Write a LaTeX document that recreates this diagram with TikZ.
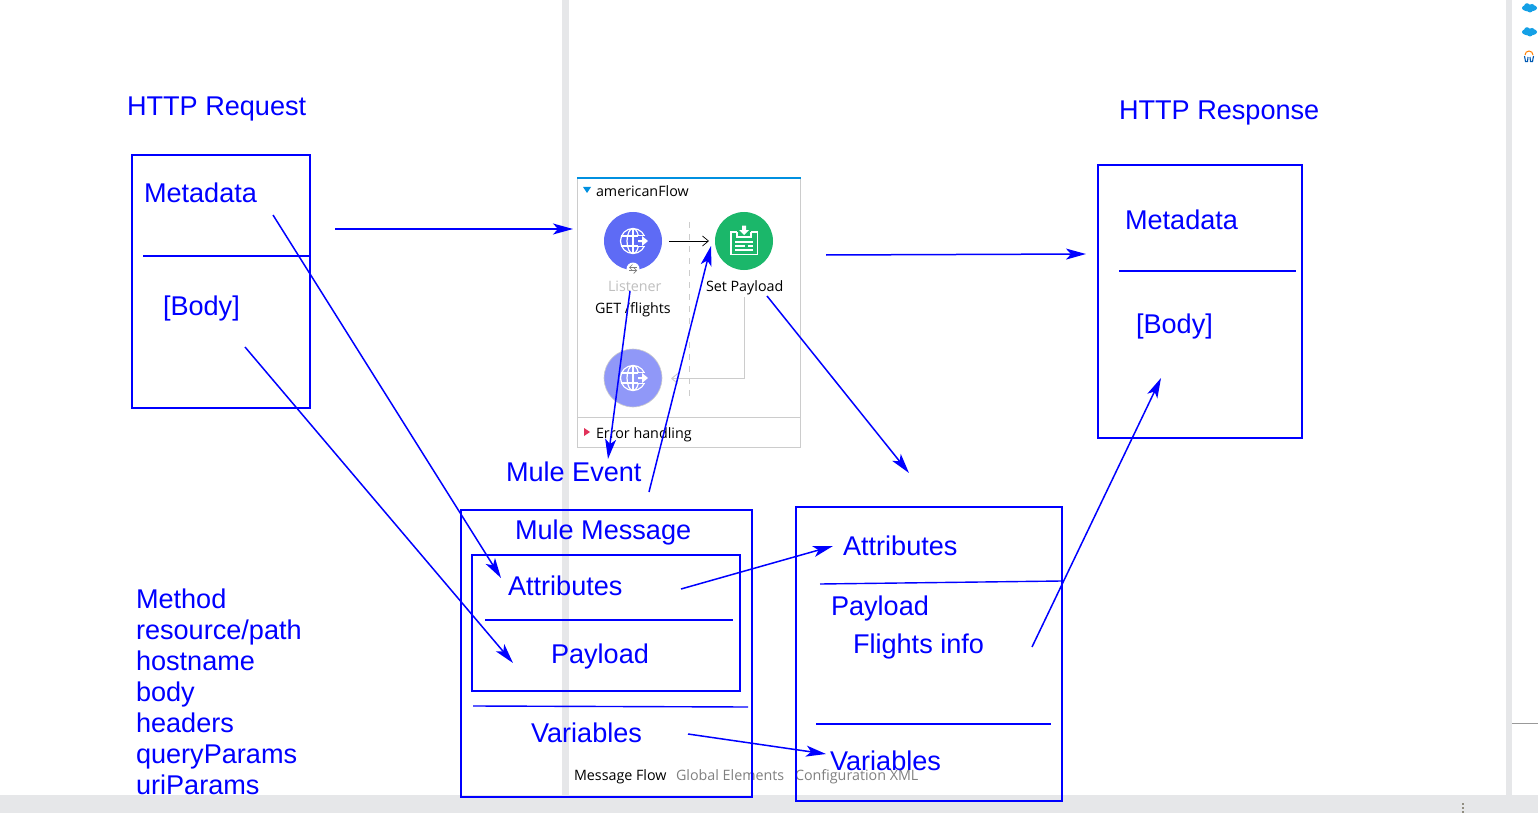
\documentclass[tikz,border=0pt]{standalone}
\usepackage{fontspec}
\setmainfont{Liberation Sans}
\newfontfamily\uifont{Open Sans}
\usetikzlibrary{arrows.meta}
\definecolor{ink}{RGB}{0,0,255}
\definecolor{band}{RGB}{230,231,233}
\definecolor{panelline}{RGB}{204,204,204}
\definecolor{flowblue}{RGB}{0,144,224}
\definecolor{listenerc}{RGB}{94,107,245}
\definecolor{sourcec}{RGB}{144,152,248}
\definecolor{setc}{RGB}{27,183,106}
\definecolor{sfblue}{RGB}{20,160,230}
\definecolor{errc}{RGB}{225,50,90}
\tikzset{
  x=0.5pt,y=-0.5pt,
  lbl/.style={anchor=base west,inner sep=0pt,outer sep=0pt,text=ink,yshift=-0.4pt,font=\fontsize{13.55}{16}\selectfont},
  ui/.style={anchor=base west,inner sep=0pt,outer sep=0pt,font=\uifont\fontsize{7.15}{8}\selectfont},
  bx/.style={draw=ink,line width=1pt},
  rule/.style={draw=ink,line width=0.7pt},
  conn/.style={draw=ink,line width=0.75pt,-{Stealth[length=10pt,width=5.5pt,inset=2.5pt]}},
  icon/.style={circle,inner sep=0pt,minimum size=29pt},
  glyph/.style={draw=white,line width=0.6pt},
}
\newcommand{\globeicon}[3]{%
  \draw[glyph] (#1,#2) circle[radius=12.5];
  \draw[glyph] (#1,#2) ellipse[x radius=6,y radius=12.5];
  \draw[glyph] (#1-12,#2-5) -- (#1+12,#2-5) (#1-12,#2+5) -- (#1+12,#2+5) (#1,#2-12.5) -- (#1,#2+12.5);
  \fill[#3] (#1+5,#2-5) rectangle (#1+16,#2+5);
  \fill[white] (#1+5,#2-1) -- (#1+9,#2-1) -- (#1+9,#2-5) -- (#1+15,#2) -- (#1+9,#2+5) -- (#1+9,#2+1) -- (#1+5,#2+1) -- cycle;
}
\begin{document}
\begin{tikzpicture}
\useasboundingbox (0,0) rectangle (1538,813);
\fill[white] (0,0) rectangle (1538,813);
% window chrome
\fill[band] (562,0) rectangle (569,795);
\fill[band] (1506,0) rectangle (1512,795);
\fill[band] (0,795) rectangle (1538,813);
\draw[gray!80,line width=0.5pt] (1512,723.5) -- (1538,723.5);
\foreach \yy in {802.5,806.5,810.5} \fill[gray!90!olive] (1462,\yy) rectangle (1464,\yy+2);
% side icons
\foreach \yy in {8,32}{
  \fill[sfblue] (1529.5,\yy) ellipse[x radius=7.5,y radius=3.5];
  \fill[sfblue] (1527,\yy-2) circle[radius=2.8];
  \fill[sfblue] (1532,\yy-1.5) circle[radius=2.5];
  \fill[sfblue] (1530,\yy+2) circle[radius=2.5];
}
\draw[orange,line width=0.5pt] (1525,55) arc[start angle=180,end angle=360,radius=4];
\draw[blue!50!cyan!70!black,line width=0.55pt] (1524.5,56) -- (1525.5,61.5) -- (1527.5,61.5) -- (1528,57) (1530,57) -- (1530.5,61.5) -- (1532.5,61.5) -- (1533.5,56);
% flow panel
\draw[panelline,line width=0.5pt] (577.5,178) rectangle (800.5,447);
\draw[panelline,line width=0.5pt] (577.5,417.5) -- (800.5,417.5);
\draw[flowblue,line width=0.6pt] (577,178) -- (801,178);
\fill[flowblue] (583,187) -- (591,187) -- (587,193) -- cycle;
\fill[errc] (584,428) -- (590,432) -- (584,436) -- cycle;
\node[ui] (flowname) at (596,196.5) {americanFlow};
\node[ui] (errname) at (596,438) {Error handling};
\node[icon,fill=listenerc] (listener) at (633,241) {};
\node[icon,fill=sourcec,draw=panelline,line width=0.3pt] (source) at (633,378) {};
\node[icon,fill=setc] (setp) at (744,241) {};
\globeicon{633}{241}{listenerc}
\globeicon{633}{378}{sourcec}
\fill[white] (633,269) circle[radius=6.5];
\draw[gray,line width=0.35pt,{Straight Barb[length=1.5pt]}-] (629,267.5) -- (637,267.5);
\draw[gray,line width=0.35pt,-{Straight Barb[length=1.5pt]}] (629,270.5) -- (637,270.5);
% set payload glyph
\draw[white,line width=0.7pt] (737,232) -- (731,232) -- (731,254.5) -- (757.5,254.5) -- (757.5,232) -- (751,232);
\draw[white,line width=0.7pt] (737,232) -- (737,237) -- (751,237) -- (751,232);
\fill[white] (742,225.5) rectangle (746,230) (739,230) -- (749,230) -- (744,235) -- cycle;
\draw[white,line width=0.6pt] (735,242) -- (753,242) (735,246) -- (745,246) (748,246) -- (753,246) (735,250) -- (753,250);
\node[ui,text=black!25] (listenerlabel) at (608,291) {Listener};
\node[ui] (getlabel) at (595,313) {GET /flights};
\node[ui] (setlabel) at (706,291) {Set Payload};
\draw[panelline,line width=0.4pt,dashed] (689.5,222) -- (689.5,397);
\coordinate (flowa) at (669,241);
\coordinate (flowb) at (709,241);
\draw[black,line width=0.35pt,-{Straight Barb[length=3pt,width=5pt]}] (flowa) -- (flowb);
\coordinate (backa) at (744.5,297);
\coordinate (backb) at (671,378.5);
\draw[panelline,line width=0.45pt,-{Straight Barb[length=3pt,width=5pt]}] (backa) |- (backb);
% tabs
\node[ui] (tabflow) at (574,780) {Message Flow};
\node[ui,text=black!50] (tabglobal) at (676,780) {Global Elements};
\node[ui,text=black!50] (tabconfig) at (795,780) {Configuration XML};
% left box
\node[lbl] (reqtitle) at (127,115) {HTTP Request};
\draw[bx] (132,155) rectangle (310,408);
\draw[rule] (143,256) -- (310,256);
\node[lbl] (reqmeta) at (144,202) {Metadata};
\node[lbl] (reqbody) at (163,315) {[Body]};
% right box
\node[lbl] (restitle) at (1119,119) {HTTP Response};
\draw[bx] (1098,165) rectangle (1302,438);
\draw[rule] (1119,271) -- (1296,271);
\node[lbl] (resmeta) at (1125,229) {Metadata};
\node[lbl] (resbody) at (1136,333) {[Body]};
% mule message in
\node[lbl] (event) at (506,481) {Mule Event};
\draw[bx] (461,510) rectangle (752,797);
\draw[bx] (472,555) rectangle (740,691);
\draw[rule] (485,620) -- (733,620);
\draw[rule] (473,706) -- (748,707);
\node[lbl] (msg) at (515,539) {Mule Message};
\node[lbl] (attin) at (508,595) {Attributes};
\node[lbl] (payin) at (551,663) {Payload};
\node[lbl] (varin) at (531,742) {Variables};
% mule message out
\draw[bx] (796,507) rectangle (1062,801);
\draw[rule] (820,584) -- (1062,581);
\draw[rule] (816,724) -- (1051,724);
\node[lbl] (attout) at (843,555) {Attributes};
\node[lbl] (payout) at (831,615) {Payload};
\node[lbl] (flights) at (853,653) {Flights info};
\node[lbl] (varout) at (830,770) {Variables};
% list
\node[lbl] (l1) at (136,608) {Method};
\node[lbl] (l2) at (136,639) {resource/path};
\node[lbl] (l3) at (136,670) {hostname};
\node[lbl] (l4) at (136,701) {body};
\node[lbl] (l5) at (136,732) {headers};
\node[lbl] (l6) at (136,763) {queryParams};
\node[lbl] (l7) at (136,794) {uriParams};
% connector ends
\coordinate (a1) at (335,229); \coordinate (a2) at (573,229);
\coordinate (b1) at (826,255); \coordinate (b2) at (1086,254);
\coordinate (c1) at (273,215); \coordinate (c2) at (501,578);
\coordinate (d1) at (245,347); \coordinate (d2) at (513,663);
\coordinate (e1) at (630,291); \coordinate (e2) at (608,459);
\coordinate (f1) at (649,492); \coordinate (f2) at (711,246);
\coordinate (g1) at (767,296); \coordinate (g2) at (909,473);
\coordinate (h1) at (681,589); \coordinate (h2) at (833,546);
\coordinate (i1) at (688,734); \coordinate (i2) at (826,754);
\coordinate (j1) at (1032,647); \coordinate (j2) at (1161,378);
\foreach \p/\q in {a1/a2,b1/b2,c1/c2,d1/d2,e1/e2,f1/f2,g1/g2,h1/h2,i1/i2,j1/j2}
  \draw[conn] (\p) -- (\q);
\end{tikzpicture}
\end{document}
